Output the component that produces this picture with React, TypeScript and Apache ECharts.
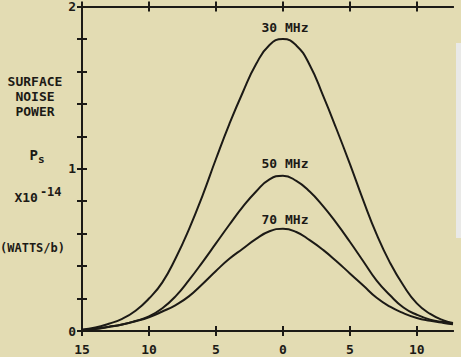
import React, { useEffect, useRef } from "react";
import * as echarts from "echarts";

const xValues = [-15, -14, -13, -12, -11, -10, -9, -8, -7, -6, -5, -4, -3, -2, -1, 0, 1, 2, 3, 4, 5, 6, 7, 8, 9, 10, 11, 12, 12.7];
const mhz30 = [0.01, 0.022, 0.045, 0.075, 0.125, 0.2, 0.3, 0.45, 0.63, 0.835, 1.06, 1.275, 1.47, 1.645, 1.763, 1.8, 1.76, 1.64, 1.45, 1.245, 1.03, 0.805, 0.595, 0.42, 0.28, 0.17, 0.105, 0.065, 0.05];
const mhz50 = [0.005, 0.014, 0.026, 0.04, 0.062, 0.09, 0.14, 0.215, 0.315, 0.425, 0.54, 0.655, 0.765, 0.86, 0.935, 0.957, 0.925, 0.86, 0.77, 0.665, 0.55, 0.43, 0.31, 0.22, 0.145, 0.1, 0.07, 0.055, 0.048];
const mhz70 = [0.005, 0.012, 0.025, 0.04, 0.06, 0.085, 0.12, 0.16, 0.215, 0.29, 0.37, 0.445, 0.507, 0.568, 0.615, 0.63, 0.61, 0.56, 0.5, 0.43, 0.355, 0.28, 0.205, 0.15, 0.11, 0.08, 0.063, 0.05, 0.042];
const seriesNames = ["30 MHz", "50 MHz", "70 MHz"];
const xTicks = [-15, -10, -5, 0, 5, 10];
const yTitleLines = ["SURFACE", "NOISE", "POWER"];

const INK = "#1c1a16";
const BG = "#e3dcb3";
const FONT = "DejaVu Sans Mono";

export default function App() {
  const ref = useRef<HTMLDivElement>(null);
  useEffect(() => {
    document.body.style.margin = "0";
    const chart = echarts.init(ref.current!, null, { renderer: "svg" });
    const pairs = (ys: number[]) => xValues.map((x, i) => [x, ys[i]]);
    const baseX = {
      type: "value",
      min: -15,
      max: 12.7,
      interval: 5,
      axisLine: { show: true, onZero: false, lineStyle: { color: INK, width: 2 } },
      splitLine: { show: false },
    };
    const tickStyle = { lineStyle: { color: INK, width: 2 }, length: 5, customValues: xTicks };
    const yTickStyle = { lineStyle: { color: INK, width: 2 }, length: 5 };
    const textStyle = { fontFamily: FONT, fontWeight: "bold", fill: INK, fontSize: 13 };
    chart.setOption({
      animation: false,
      backgroundColor: BG,
      grid: { left: 82, right: 8, top: 5, bottom: 26, containLabel: false },
      xAxis: [
        {
          ...baseX,
          position: "bottom",
          axisTick: { ...tickStyle, inside: false },
          axisLabel: {
            customValues: xTicks,
            formatter: (v: number) => String(Math.abs(v)),
            color: INK,
            fontFamily: FONT,
            fontWeight: "bold",
            fontSize: 13,
            margin: 12,
          },
        },
        { ...baseX, position: "bottom", axisTick: { ...tickStyle, inside: true }, axisLabel: { show: false } },
        { ...baseX, position: "top", axisTick: { ...tickStyle, inside: false }, axisLabel: { show: false } },
        { ...baseX, position: "top", axisTick: { ...tickStyle, inside: true }, axisLabel: { show: false } },
      ],
      yAxis: [
        {
          type: "value",
          min: 0,
          max: 2,
          interval: 0.2,
          position: "left",
          axisLine: { show: true, onZero: false, lineStyle: { color: INK, width: 2 } },
          axisTick: { ...yTickStyle, inside: false },
          splitLine: { show: false },
          axisLabel: {
            formatter: (v: number) => (Math.abs(v - Math.round(v)) < 1e-6 ? String(Math.round(v)) : ""),
            color: INK,
            fontFamily: FONT,
            fontWeight: "bold",
            fontSize: 13,
            margin: 6,
          },
        },
        {
          type: "value",
          min: 0,
          max: 2,
          interval: 0.2,
          position: "left",
          axisLine: { show: false, onZero: false },
          axisTick: { ...yTickStyle, inside: true },
          splitLine: { show: false },
          axisLabel: { show: false },
        },
      ],
      series: [mhz30, mhz50, mhz70].map((d, i) => ({
        type: "line",
        name: seriesNames[i],
        data: pairs(d),
        smooth: 0.5,
        showSymbol: false,
        lineStyle: { color: INK, width: 2 },
        xAxisIndex: 0,
        yAxisIndex: 0,
      })),
      graphic: [
        { type: "rect", shape: { x: 456, y: 43, width: 5, height: 195 }, style: { fill: "#e9e9e7" } },
        { type: "text", x: 285, y: 27, style: { ...textStyle, text: seriesNames[0], align: "center", verticalAlign: "middle" } },
        { type: "text", x: 285, y: 163, style: { ...textStyle, text: seriesNames[1], align: "center", verticalAlign: "middle" } },
        { type: "text", x: 285, y: 219, style: { ...textStyle, text: seriesNames[2], align: "center", verticalAlign: "middle" } },
        ...yTitleLines.map((t, i) => ({
          type: "text",
          x: 35,
          y: 81 + i * 15,
          style: { ...textStyle, text: t, align: "center", verticalAlign: "middle" },
        })),
        {
          type: "text",
          x: 37,
          y: 155,
          style: {
            text: "{p|P}{s|s}",
            align: "center",
            verticalAlign: "middle",
            rich: {
              p: { fontFamily: FONT, fontWeight: "bold", fill: INK, fontSize: 14 },
              s: { fontFamily: FONT, fontWeight: "bold", fill: INK, fontSize: 11, padding: [8, 0, 0, 0] },
            },
          },
        },
        {
          type: "text",
          x: 38,
          y: 197,
          style: {
            text: "{b|X10}{e|-14}",
            align: "center",
            verticalAlign: "middle",
            rich: {
              b: { fontFamily: FONT, fontWeight: "bold", fill: INK, fontSize: 13 },
              e: { fontFamily: FONT, fontWeight: "bold", fill: INK, fontSize: 12, padding: [0, 0, 10, 2] },
            },
          },
        },
        { type: "text", x: 0, y: 248, style: { ...textStyle, fontSize: 12, text: "(WATTS/b)", align: "left", verticalAlign: "middle" } },
      ],
    });
    return () => chart.dispose();
  }, []);
  return <div ref={ref} style={{ position: "fixed", left: 0, top: 0, width: 461, height: 357 }} />;
}
